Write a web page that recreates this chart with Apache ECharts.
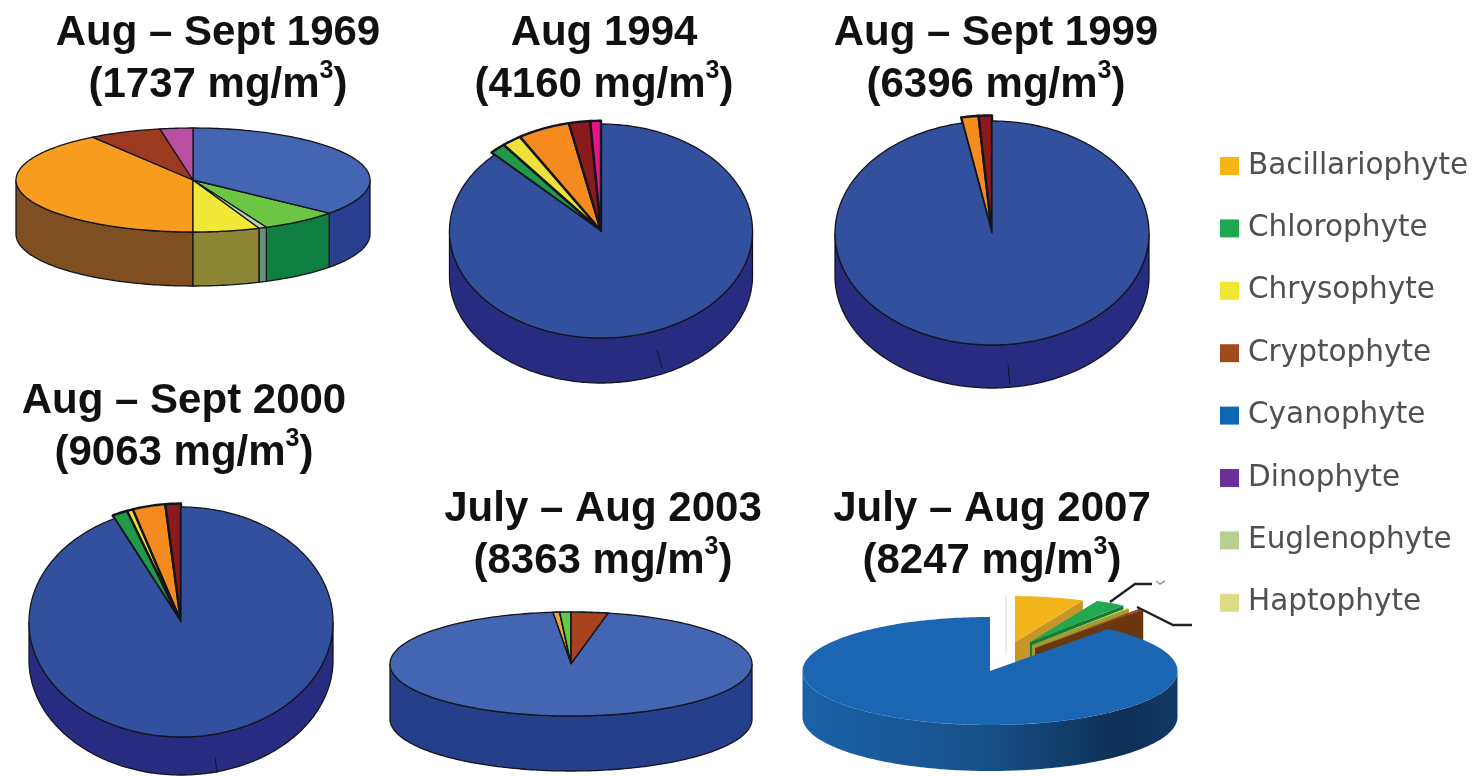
<!DOCTYPE html>
<html>
<head>
<meta charset="utf-8">
<title>Phytoplankton composition</title>
<script src="https://cdn.jsdelivr.net/npm/echarts@6/dist/echarts.min.js"></script>
<style>
html, body { margin: 0; padding: 0; background: #fff; }
#main { width: 1480px; height: 776px; }
</style>
</head>
<body>
<div id="main"></div>
<script type="text/javascript">
// legend order
var taxa = ['Bacillariophyte', 'Chlorophyte', 'Chrysophyte', 'Cryptophyte', 'Cyanophyte', 'Dinophyte', 'Euglenophyte', 'Haptophyte'];
var legendColors = ['#f6b417', '#1fa750', '#efe533', '#a04a1e', '#0f66b4', '#6a2f98', '#b9cf91', '#dedb88'];

var pieTitles = ['Aug – Sept 1969', 'Aug 1994', 'Aug – Sept 1999', 'Aug – Sept 2000', 'July – Aug 2003', 'July – Aug 2007'];
var pieTotals = ['1737', '4160', '6396', '9063', '8363', '8247'];

// slices clockwise from 12 o'clock, percent
var slices1969 = ['Cyanophyte', 'Chlorophyte', 'Euglenophyte', 'Chrysophyte', 'Bacillariophyte', 'Cryptophyte', 'Dinophyte'];
var values1969 = [36, 7.2, 0.7, 6.1, 40.4, 6.6, 3];
var slices1994 = ['Cyanophyte', 'Chlorophyte', 'Chrysophyte', 'Bacillariophyte', 'Cryptophyte', 'Dinophyte'];
var values1994 = [87.6, 1.7, 2, 5.4, 2.2, 1.1];
var slices1999 = ['Cyanophyte', 'Bacillariophyte', 'Cryptophyte'];
var values1999 = [97, 1.7, 1.3];
var slices2000 = ['Cyanophyte', 'Chlorophyte', 'Chrysophyte', 'Bacillariophyte', 'Cryptophyte'];
var values2000 = [92.8, 1.6, 0.6, 3.4, 1.6];
var slices2003 = ['Cryptophyte', 'Cyanophyte', 'Bacillariophyte', 'Chlorophyte'];
var values2003 = [3.3, 95.1, 0.6, 1];
var slices2007 = ['Bacillariophyte', 'Chlorophyte', 'Chrysophyte', 'Cryptophyte', 'Cyanophyte'];
var values2007 = [7, 3.1, 0.3, 0.4, 89.2];

var pieSlices = [slices1969, slices1994, slices1999, slices2000, slices2003, slices2007];
var pieValues = [values1969, values1994, values1999, values2000, values2003, values2007];

// colours per picture: [top, wall]
var paletteLight = {
    Cyanophyte: ['#4466b2', '#2a3f8f'], Chlorophyte: ['#6cc644', '#0f7f3f'], Euglenophyte: ['#b5d5a0', '#6f9078'],
    Chrysophyte: ['#f2e838', '#8a8636'], Bacillariophyte: ['#f79c1f', '#7f4f22'], Cryptophyte: ['#9b3a1e', '#6b2814'], Dinophyte: ['#b94fa0', '#7a2f6a']
};
var paletteDark = {
    Cyanophyte: ['#33509f', '#282c80'], Chlorophyte: ['#1f9a49', '#14622f'], Chrysophyte: ['#eee23a', '#8a8636'],
    Bacillariophyte: ['#f58a1f', '#7f4f22'], Cryptophyte: ['#8b1a1c', '#5a1012'], Dinophyte: ['#e5168c', '#8c0f56']
};
var palette2003 = {
    Cyanophyte: ['#4466b2', '#263f8a'], Chlorophyte: ['#62cc44', '#0f7f3f'], Bacillariophyte: ['#e9a93a', '#7f4f22'], Cryptophyte: ['#a8421f', '#6b2814']
};
var palette2007 = {
    Cyanophyte: ['#1a66b3', '#164f87'], Chlorophyte: ['#22a84f', '#17793a'], Chrysophyte: ['#e6dc50', '#a09a38'],
    Bacillariophyte: ['#f3b51b', '#c8952a'], Cryptophyte: ['#96431a', '#6b350f']
};

// where each pie sits on the page
var pieBoxes = [
    { cx: 193, cy: 180, rx: 177, ry: 52, depth: 54, palette: paletteLight, line: 1.3, wedge: 1.3 },
    { cx: 601, cy: 231, rx: 151.5, ry: 107, depth: 45, palette: paletteDark, line: 1.3, wedge: 2.4, pull: 1.03 },
    { cx: 992, cy: 233, rx: 157, ry: 112, depth: 43, palette: paletteDark, line: 1.3, wedge: 2.4, pull: 1.05 },
    { cx: 181, cy: 622, rx: 152, ry: 115, depth: 38, palette: paletteDark, line: 1.3, wedge: 2.4, pull: 1.03 },
    { cx: 571, cy: 664, rx: 181, ry: 52, depth: 55, palette: palette2003, line: 1.3, wedge: 1.6 },
    { cx: 990, cy: 671, rx: 187.5, ry: 54, depth: 46, palette: palette2007, line: 0, wedge: 0 }
];
// 2007 has its small slices pulled out of the pie
var pulled2007 = {
    Bacillariophyte: { dx: 25, dy: -29, scale: 0.85, depth: 33 },
    Chlorophyte: { dx: 40, dy: -29, scale: 0.84, depth: 33 },
    Chrysophyte: { dx: 42, dy: -26, scale: 0.85, depth: 33 },
    Cryptophyte: { dx: 45, dy: -23, scale: 0.92, depth: 33 }
};
var wall2007 = new echarts.graphic.LinearGradient(0, 0, 1, 0, [
    { offset: 0, color: '#1b62a8' }, { offset: 0.5, color: '#164f87' },
    { offset: 0.85, color: '#0e2f55' }, { offset: 1, color: '#123a66' }
]);

function arcPoint(box, pull, a) {
    return [
        box.cx + pull.dx + box.rx * pull.scale * Math.sin(a),
        box.cy + pull.dy - box.ry * pull.scale * Math.cos(a)
    ];
}

function arcPoints(box, pull, a0, a1) {
    var pts = [];
    var n = Math.max(2, Math.ceil((a1 - a0) / 0.02));
    for (var i = 0; i <= n; i++) {
        pts.push(arcPoint(box, pull, a0 + (a1 - a0) * i / n));
    }
    return pts;
}

function drop(pts, d) {
    return pts.map(function (p) { return [p[0], p[1] + d]; });
}

function renderSlice(name) {
    return function (params, api) {
        var pieIdx = api.value(0);
        var box = pieBoxes[pieIdx];
        var names = pieSlices[pieIdx];
        var values = pieValues[pieIdx];
        var total = values.reduce(function (a, b) { return a + b; }, 0);
        var before = 0;
        for (var i = 0; i < names.indexOf(name); i++) before += values[i];
        var a0 = before / total * Math.PI * 2;
        var a1 = (before + api.value(1)) / total * Math.PI * 2;
        var exploded = pieIdx === 5 && pulled2007[name];
        var isMain = name === 'Cyanophyte';
        var pull = exploded || { dx: 0, dy: 0, scale: (isMain ? 1 : (box.pull || 1)) };
        var depth = pull.depth || box.depth;
        var colors = box.palette[name];
        var wallStroke = box.line ? { stroke: '#14141c', lineWidth: box.line } : { stroke: null };
        var faceWidth = isMain ? box.line : box.wedge;
        var faceStroke = faceWidth ? { stroke: '#14141c', lineWidth: faceWidth } : { stroke: null };
        var kids = [];

        // rim wall, only the part that faces the viewer
        var w0 = Math.max(a0, Math.PI / 2), w1 = Math.min(a1, Math.PI * 1.5);
        if (w1 > w0) {
            var rim = arcPoints(box, pull, w0, w1);
            var wallFill = (pieIdx === 5 && isMain) ? wall2007 : colors[1];
            kids.push({
                type: 'polygon',
                shape: { points: rim.concat(drop(rim, depth).reverse()) },
                style: Object.assign({ fill: wallFill }, wallStroke)
            });
        }
        // cut face of a pulled out slice
        if (exploded) {
            var v = arcPoint(box, { dx: pull.dx, dy: pull.dy, scale: 0 }, 0);
            var e = arcPoint(box, pull, a1);
            kids.push({
                type: 'polygon',
                shape: { points: [v, e, [e[0], e[1] + depth], [v[0], v[1] + depth]] },
                style: { fill: colors[1] }
            });
        }
        // top face
        var centre = [box.cx + pull.dx, box.cy + pull.dy];
        kids.push({
            type: 'polygon',
            shape: { points: [centre].concat(arcPoints(box, pull, a0, a1)) },
            style: Object.assign({ fill: colors[0], lineJoin: 'round' }, faceStroke)
        });
        return { type: 'group', children: kids };
    };
}

var seriesList = taxa.map(function (name, k) {
    var rows = [];
    pieSlices.forEach(function (names, p) {
        var at = names.indexOf(name);
        if (at >= 0) rows.push([p, pieValues[p][at]]);
    });
    return {
        name: name,
        type: 'custom',
        coordinateSystem: 'none',
        silent: true,
        animation: false,
        itemStyle: { color: legendColors[k] },
        renderItem: renderSlice(name),
        data: rows
    };
});

var titleSpots = [[218, 4], [604, 4], [996, 4], [184, 372], [603, 480], [992, 480]];
var titles = pieTitles.map(function (t, i) {
    return {
        text: '{t|' + t + '}\n{t|(' + pieTotals[i] + ' mg/m}{s|3}{t|)}',
        left: titleSpots[i][0],
        top: titleSpots[i][1] + 3,
        padding: 0,
        textAlign: 'center',
        textStyle: {
            rich: {
                t: {
                    fontFamily: '"Liberation Sans", Arial, sans-serif',
                    fontWeight: 'bold',
                    fontSize: 42,
                    lineHeight: 52,
                    color: '#111'
                },
                s: {
                    fontFamily: '"Liberation Sans", Arial, sans-serif',
                    fontWeight: 'bold',
                    fontSize: 25,
                    lineHeight: 52,
                    verticalAlign: 'top',
                    color: '#111'
                }
            }
        }
    };
});

function seam(x1, y1, x2, y2, color) {
    return { type: 'line', shape: { x1: x1, y1: y1, x2: x2, y2: y2 }, style: { stroke: color || '#14141c', lineWidth: 1 }, z: 20 };
}

var myChart = echarts.init(document.getElementById('main'));
myChart.setOption({
    animation: false,
    backgroundColor: '#fff',
    title: titles,
    legend: {
        orient: 'vertical',
        left: 1220,
        top: 149,
        padding: 0,
        icon: 'rect',
        itemWidth: 19,
        itemHeight: 18,
        itemGap: 28.4,
        selectedMode: false,
        data: taxa,
        textStyle: { fontFamily: '"DejaVu Sans", sans-serif', fontSize: 29.5, lineHeight: 34, color: '#505050', padding: [0, 0, 0, 4] }
    },
    series: seriesList,
    graphic: [
        seam(657, 350, 662, 368),
        seam(1008, 365, 1010, 385),
        seam(215, 757, 217, 773),
        seam(1006, 595, 1006, 655, '#dcdcdc'),
        { type: 'polyline', shape: { points: [[1110, 602], [1135, 584], [1152, 584]] }, style: { stroke: '#222', lineWidth: 2.4, fill: null }, z: 20 },
        { type: 'polyline', shape: { points: [[1137, 607], [1173, 625], [1192, 625]] }, style: { stroke: '#222', lineWidth: 2.4, fill: null }, z: 20 },
        { type: 'polyline', shape: { points: [[1156, 581], [1160, 584], [1165, 581]] }, style: { stroke: '#999', lineWidth: 1.5, fill: null }, z: 20 }
    ]
});
</script>
</body>
</html>
